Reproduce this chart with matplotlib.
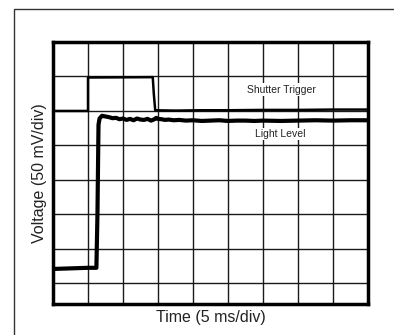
import matplotlib as mpl
from matplotlib import pyplot as plt
from matplotlib.patches import Rectangle
import numpy as np

plt.rcParams['font.family'] = ['Liberation Sans', 'DejaVu Sans']

# scope traces in divisions
shutter_t = [0.0, 1.0, 1.0, 2.85, 2.88, 2.92, 3.5, 4.2, 5.0, 6.0, 7.0, 8.0, 9.0]
shutter_v = [5.0, 5.0, 5.97, 5.98, 5.5, 5.02, 5.01, 5.02, 5.02, 5.03, 5.03, 5.04, 5.04]

light_t = [0.1, 0.4, 0.7, 1.0, 1.24, 1.27, 1.30, 1.33, 1.40, 1.50, 1.60, 1.70,
           1.80, 1.90, 2.00, 2.10, 2.20, 2.30, 2.40, 2.50, 2.60, 2.70, 2.80,
           2.90, 2.95, 3.00, 3.10, 3.20, 3.30, 3.45, 3.60, 3.80, 4.00, 4.25,
           4.50, 4.75, 5.00, 5.25, 5.50, 5.75, 6.00, 6.50, 7.00, 7.50, 8.00,
           8.50, 9.00]
light_v = [0.42, 0.43, 0.44, 0.45, 0.45, 2.00, 4.60, 4.78, 4.86, 4.84, 4.82, 4.79,
           4.80, 4.76, 4.78, 4.74, 4.77, 4.73, 4.78, 4.75, 4.74, 4.77, 4.72,
           4.76, 4.80, 4.77, 4.76, 4.74, 4.75, 4.73, 4.74, 4.72, 4.73, 4.71,
           4.72, 4.73, 4.71, 4.72, 4.72, 4.71, 4.72, 4.71, 4.72, 4.73, 4.72,
           4.73, 4.73]

x_div = np.arange(0, 10)
y_div = np.arange(0, 8)

fig = plt.figure(figsize=(3.94, 3.35), dpi=100)
fig.patches.append(Rectangle((14/394, -0.1), 1.2, 1 - 9/335 + 0.1,
                             transform=fig.transFigure, fill=False,
                             edgecolor='#333333', linewidth=1))

ax = fig.add_axes([53/394, 1 - 304/335, 315/394, 262/335])
ax.set_xlim(0, 9)
ax.set_ylim(-0.6, 7)

for xv in x_div[1:-1]:
    ax.axvline(xv, color='#1a1a1a', linewidth=1, zorder=1)
for yv in y_div[:-1]:
    ax.axhline(yv, color='#1a1a1a', linewidth=1, zorder=1)

ax.plot(shutter_t, shutter_v, color='black', linewidth=1.8, zorder=3)
ax.plot(light_t, light_v, color='black', linewidth=3, zorder=3)

ax.text(6.54, 5.62, 'Shutter Trigger', fontsize=7.5, ha='center', va='center',
        color='#222222', zorder=4,
        bbox=dict(facecolor='white', edgecolor='none', pad=1))
ax.text(6.5, 4.33, 'Light Level', fontsize=7.5, ha='center', va='center',
        color='#222222', zorder=4,
        bbox=dict(facecolor='white', edgecolor='none', pad=1))

for s in ax.spines.values():
    s.set_linewidth(2.5)
ax.set_xticks([])
ax.set_yticks([])

ax.set_xlabel('Time (5 ms/div)', fontsize=11.5, labelpad=4, color='#222222')
ax.set_ylabel('Voltage (50 mV/div)', fontsize=11.5, labelpad=4, color='#222222')

fig.savefig('out.png', dpi=100)
